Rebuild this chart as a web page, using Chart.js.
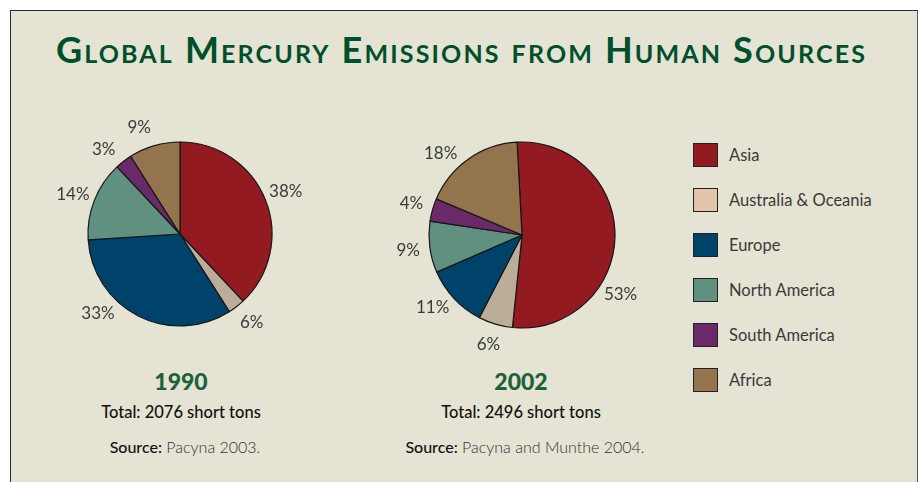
<!DOCTYPE html>
<html>
<head>
<meta charset="utf-8">
<script src="https://cdn.jsdelivr.net/npm/chart.js@4.4.1/dist/chart.umd.min.js"></script>
<style>
  html, body { margin: 0; padding: 0; background: #fff; }
  body { width: 918px; height: 482px; position: relative; overflow: hidden; font-family: Lato, "Open Sans", sans-serif; }
  #panel {
    position: absolute; left: 10px; top: 10px; width: 906px; height: 490px;
    background: #e5e3d3; border-top: 1.5px solid #2a2a2a; border-left: 1.5px solid #2a2a2a;
    border-right: 2px solid #5a5a5a;
  }
  .abs { position: absolute; }
  #title {
    left: 0; width: 923px; top: 27px; text-align: center;
    font-variant: small-caps; font-weight: 700; font-size: 36px; color: #00502b;
    letter-spacing: 2.15px; white-space: nowrap;
  }
  canvas { position: absolute; }
  .cap { width: 320px; text-align: center; white-space: nowrap; color: #111; }
  .year { font-weight: 900; font-size: 23px; color: #1b6238; }
  .total { font-size: 16.5px; font-weight: 500; }
  .src { font-size: 16px; color: #333; font-weight: 300; }
  .src b { font-weight: 500; color: #111; }
  .leg-box { width: 23px; height: 22px; border: 1.5px solid #222; }
  .leg-text { font-size: 16.5px; color: #3a3a3a; font-weight: 400; white-space: nowrap; }
</style>
</head>
<body>
<div id="panel"></div>
<div id="title" class="abs">Global Mercury Emissions from Human Sources</div>
<canvas id="pie1990" width="300" height="260" style="left:30px; top:104px;"></canvas>
<canvas id="pie2002" width="300" height="260" style="left:372px; top:105px;"></canvas>
<div id="legend"></div>
<div id="captions"></div>
<script>
// regions and values
const regions = ['Asia', 'Australia & Oceania', 'Europe', 'North America', 'South America', 'Africa'];
const shares1990 = [38, 3, 33, 14, 3, 9];
const labels1990 = ['38%', '6%', '33%', '14%', '3%', '9%'];
const shares2002 = [53, 6, 11, 9, 4, 18];
const labels2002 = ['53%', '6%', '11%', '9%', '4%', '18%'];
const years = ['1990', '2002'];
const totals = ['Total: 2076 short tons', 'Total: 2496 short tons'];
const sources = ['Pacyna 2003.', 'Pacyna and Munthe 2004.'];

const sliceColors = ['#931a20', '#bcad98', '#00436a', '#5f9080', '#6a2a6a', '#94744c'];
const legendColors = ['#931a20', '#e2c4a8', '#00436a', '#5f9080', '#6a2a6a', '#94744c'];

// draws the percentage text outside each slice
const outsideLabels = {
  id: 'outsideLabels',
  afterDatasetsDraw(chart, args, opts) {
    const ctx = chart.ctx;
    const arcs = chart.getDatasetMeta(0).data;
    ctx.save();
    ctx.font = '400 17px Lato, sans-serif';
    ctx.fillStyle = '#3a3a3a';
    ctx.textAlign = 'center';
    ctx.textBaseline = 'middle';
    arcs.forEach((arc, i) => {
      const p = arc.getProps(['x', 'y', 'startAngle', 'endAngle', 'outerRadius'], true);
      let a = (p.startAngle + p.endAngle) / 2;
      if (opts.angles && opts.angles[i] != null) a = opts.angles[i] * Math.PI / 180;
      const r = p.outerRadius + (opts.gap || 22);
      ctx.fillText(opts.texts[i], p.x + Math.cos(a) * r, p.y + Math.sin(a) * r);
    });
    ctx.restore();
  }
};

function createPie(id, values, texts, rotation, radius, angles) {
  return new Chart(document.getElementById(id).getContext('2d'), {
    type: 'pie',
    data: { labels: regions, datasets: [{
      data: values,
      backgroundColor: sliceColors,
      borderColor: '#161616', borderWidth: 1.2,
      radius,
    }] },
    options: {
      responsive: false, animation: false, rotation,
      layout: { padding: 0 },
      plugins: {
        legend: { display: false },
        tooltip: { enabled: false },
        outsideLabels: { texts, angles, gap: 22 },
      },
    },
    plugins: [outsideLabels],
  });
}

// label angles (degrees, canvas direction) where the printed chart moved them off the slice middle
createPie('pie1990', shares1990, labels1990, 0, 92, [-22, 51, 136, 200, 228, 249]);
createPie('pie2002', shares2002, labels2002, -3, 93, [31, 107, 141, 172, 196, 225]);

// legend
const legend = document.getElementById('legend');
regions.forEach((r, i) => {
  const top = 143 + i * 45;
  legend.insertAdjacentHTML('beforeend',
    `<div class="abs leg-box" style="left:693px; top:${top}px; background:${legendColors[i]}"></div>` +
    `<div class="abs leg-text" style="left:729px; top:${top + 1}px; line-height:22px">${r.replace('&', '&amp;')}</div>`);
});

// captions under each pie
const capX = [181, 521];
const captions = document.getElementById('captions');
years.forEach((y, i) => {
  const left = capX[i] - 160;
  captions.insertAdjacentHTML('beforeend',
    `<div class="abs cap year" style="left:${left}px; top:366px; line-height:30px">${y}</div>` +
    `<div class="abs cap total" style="left:${left}px; top:400px; line-height:24px">${totals[i]}</div>` +
    `<div class="abs cap src" style="left:${left + 4}px; top:435px; line-height:24px"><b>Source:</b> ${sources[i]}</div>`);
});
</script>
</body>
</html>
